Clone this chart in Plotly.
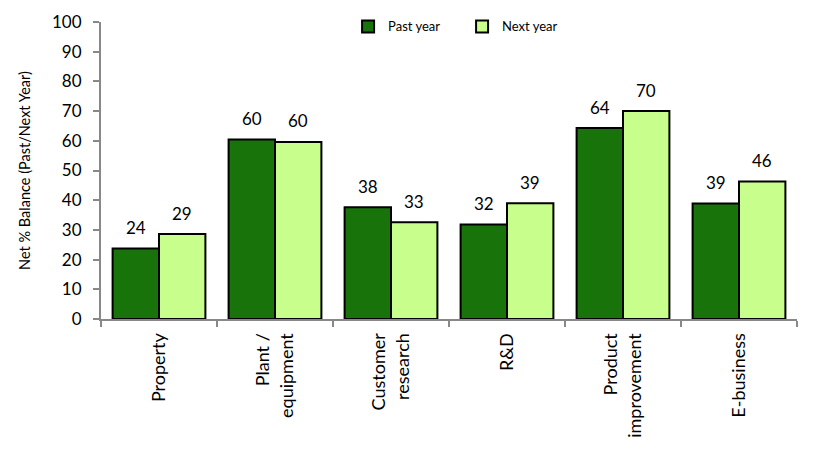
import plotly.graph_objects as go

categories = ["Property", "Plant /<br>equipment", "Customer<br>research", "R&D",
              "Product<br>improvement", "E-business"]
past_year = [23.7, 60.4, 37.6, 31.8, 64.3, 38.9]
next_year = [28.6, 59.6, 32.6, 39.0, 70.0, 46.3]
y_ticks = [0, 10, 20, 30, 40, 50, 60, 70, 80, 90, 100]

FONT = "Lato"

fig = go.Figure()
fig.add_trace(go.Bar(
    x=categories, y=past_year, name="Past year",
    marker=dict(color="#18730A", line=dict(color="black", width=2)),
))
fig.add_trace(go.Bar(
    x=categories, y=next_year, name="Next year",
    marker=dict(color="#C8FF8C", line=dict(color="black", width=2)),
))

# data labels placed above each bar
for series, shift in ((past_year, -23), (next_year, 23)):
    for c, v in zip(categories, series):
        fig.add_annotation(x=c, y=v, xref="x", yref="y", text=f"{v:.0f}",
                           showarrow=False, xshift=shift, yshift=21,
                           font=dict(family=FONT, size=17, color="black"))

fig.update_layout(
    width=831, height=451,
    margin=dict(l=93, r=42, t=14, b=140, autoexpand=False),
    paper_bgcolor="white", plot_bgcolor="white",
    barmode="group", bargap=0.2, bargroupgap=0,
    font=dict(family=FONT, color="black"),
    showlegend=True,
    legend=dict(orientation="h", x=0.355, y=0.985, xanchor="left", yanchor="middle",
                font=dict(family=FONT, size=13), itemwidth=30, entrywidth=69,
                entrywidthmode="pixels", bgcolor="rgba(0,0,0,0)"),
    xaxis=dict(showline=True, linecolor="#888888", linewidth=2, ticks="outside",
               tickson="boundaries", ticklen=6, tickcolor="#888888", tickwidth=2,
               tickangle=-90, tickfont=dict(family=FONT, size=18), automargin=False,
               ticklabelstandoff=5),
    yaxis=dict(range=[0, 100], tickvals=y_ticks, showline=True, linecolor="#888888",
               linewidth=2, ticks="outside", ticklen=6, tickcolor="#888888", tickwidth=2,
               showgrid=False, zeroline=False, tickfont=dict(family=FONT, size=17),
               automargin=False, ticklabelstandoff=8,
               title=dict(text="Net % Balance (Past/Next Year)",
                          font=dict(family=FONT, size=14.5), standoff=18)),
)
fig.write_html("out.html")
